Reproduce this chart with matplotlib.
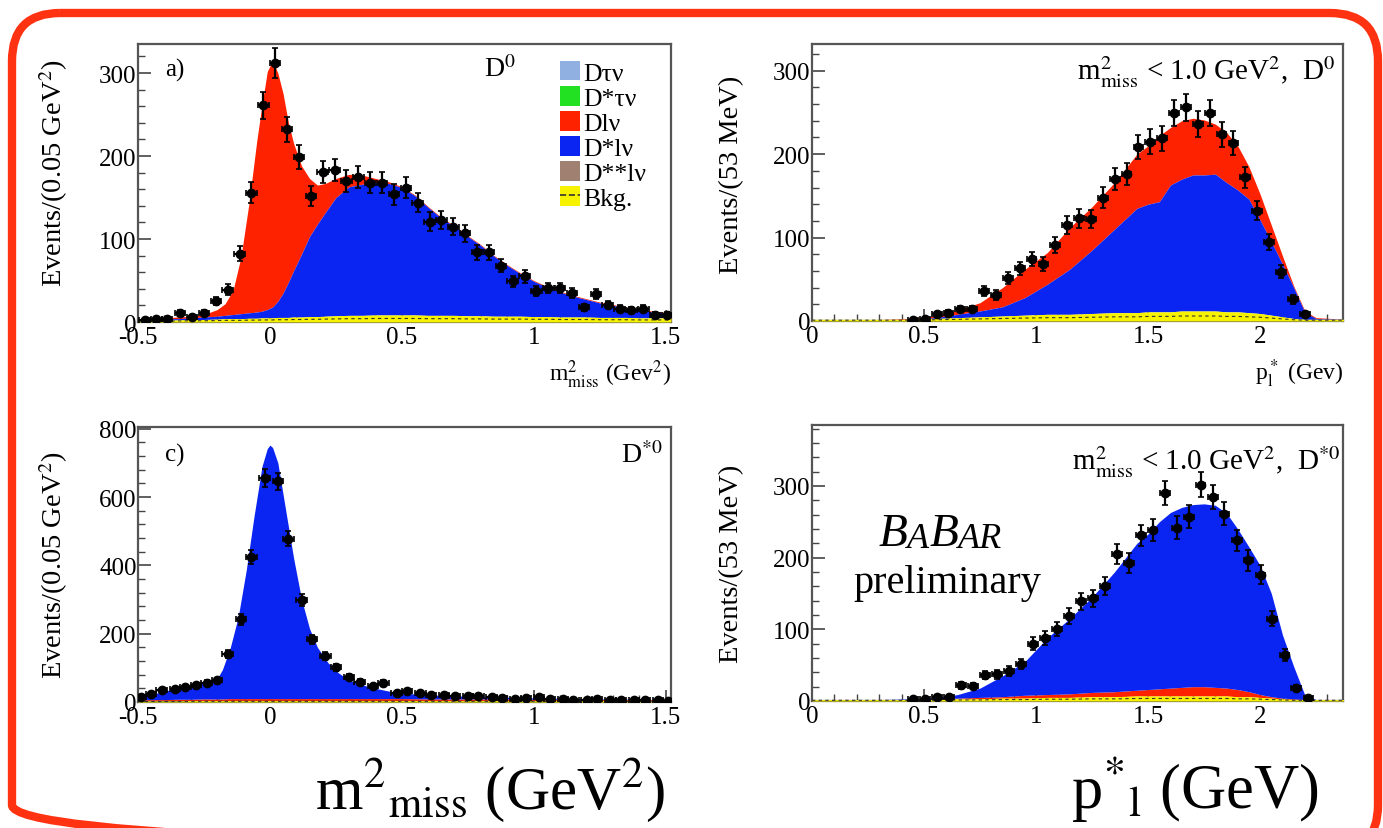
import numpy as np
import matplotlib
matplotlib.use("Agg")
import matplotlib.pyplot as plt
from matplotlib.patches import FancyBboxPatch, Patch
from matplotlib.lines import Line2D
from matplotlib.ticker import AutoMinorLocator, MultipleLocator, FuncFormatter

plt.rcParams['font.family'] = ['Liberation Serif', 'DejaVu Serif']
plt.rcParams['mathtext.fontset'] = 'stix'

# ---------------- data: panel a (D0, m2miss) ----------------
a_x = [-0.475, -0.43, -0.39, -0.34, -0.295, -0.25, -0.205, -0.16, -0.115, -0.07,
       -0.025, 0.02, 0.065, 0.11, 0.155, 0.2, 0.245, 0.29, 0.335, 0.38,
       0.425, 0.47, 0.515, 0.56, 0.605, 0.65, 0.695, 0.74, 0.785, 0.83,
       0.875, 0.92, 0.965, 1.01, 1.055, 1.10, 1.145, 1.19, 1.235, 1.28,
       1.325, 1.37, 1.415, 1.46, 1.505]
a_y = [2, 4, 4, 11, 6, 11, 25, 39, 82, 156, 261, 312, 232, 199, 152, 181, 183, 170,
       175, 168, 168, 154, 162, 144, 121, 123, 115, 107, 84, 84, 68, 49, 55, 37,
       41, 41, 35, 18, 34, 21, 16, 14, 16, 9, 9]
a_fx = [-0.5, -0.45, -0.4, -0.35, -0.3, -0.25, -0.2, -0.17, -0.14, -0.11, -0.08, -0.05,
        -0.03, -0.01, 0.01, 0.03, 0.05, 0.07, 0.09, 0.12, 0.15, 0.18, 0.21, 0.25, 0.3,
        0.35, 0.4, 0.45, 0.5, 0.55, 0.6, 0.65, 0.7, 0.75, 0.8, 0.85, 0.9, 0.95, 1.0,
        1.05, 1.1, 1.15, 1.2, 1.25, 1.3, 1.35, 1.4, 1.45, 1.52]
a_bkg = [2, 2, 2, 2.5, 3, 3, 3.5, 4, 4, 4, 4.5, 4.5, 5, 5, 5, 5.5, 5.5, 5.5, 6, 6, 6.5,
         6.5, 7, 7.5, 8, 8, 8.5, 8.5, 8.5, 8.5, 8, 8, 8, 7.5, 7.5, 7, 7, 7, 6.5, 6.5, 6,
         6, 6, 5.5, 5.5, 5.5, 5, 5, 5]
a_dstarlnu_top = [3, 3, 4, 4, 5, 6, 7, 8, 9, 10, 11, 12, 13, 15, 18, 25, 35, 48, 62, 82,
                  103, 118, 132, 150, 163, 166, 168, 167, 162, 152, 138, 125, 115, 103,
                  92, 79, 68, 58, 49, 42, 36, 31, 27, 23, 20, 17, 15, 12, 10]
a_dlnu_top = [3, 4, 5, 6, 7, 9, 15, 22, 38, 78, 142, 218, 262, 302, 315, 300, 275, 240,
              215, 188, 173, 165, 167, 173, 178, 177, 173, 169, 163, 153, 139, 126, 116,
              104, 93, 80, 69, 59, 50, 43, 37, 32, 28, 24, 21, 18, 16, 13, 11]

# ---------------- data: panel c (D*0, m2miss) ----------------
c_x = [-0.49, -0.45, -0.41, -0.36, -0.32, -0.28, -0.24, -0.20, -0.16, -0.11, -0.07, -0.02,
       0.03, 0.07, 0.12, 0.16, 0.21, 0.25, 0.30, 0.34, 0.39, 0.43, 0.48, 0.52, 0.57, 0.61,
       0.66, 0.70, 0.75, 0.79, 0.84, 0.88, 0.93, 0.97, 1.02, 1.06, 1.11, 1.15, 1.20, 1.24,
       1.29, 1.33, 1.38, 1.42, 1.47, 1.51]
c_y = [15, 24, 34, 39, 44, 49, 56, 63, 141, 242, 424, 656, 646, 478, 298, 183, 135, 102,
       73, 60, 47, 56, 26, 31, 27, 21, 20, 18, 18, 17, 15, 12, 8, 12, 15, 10, 10, 7, 7,
       8, 7, 5, 5, 7, 7, 2]
c_fx = [-0.5, -0.45, -0.4, -0.35, -0.3, -0.25, -0.2, -0.18, -0.15, -0.12, -0.09, -0.06,
        -0.03, -0.01, 0.0, 0.01, 0.03, 0.06, 0.09, 0.12, 0.15, 0.18, 0.22, 0.26, 0.3,
        0.35, 0.4, 0.45, 0.5, 0.6, 0.7, 0.8, 0.9, 1.0, 1.1, 1.2, 1.3, 1.4, 1.52]
c_bkg = [3, 3, 3, 3, 4, 4, 4, 4, 4, 4, 4, 4, 4, 4, 4, 4, 4, 4, 4, 4, 4, 4, 4, 4, 4, 4,
         4, 4, 4, 4, 4, 4, 4, 4, 4, 4, 4, 3, 3]
c_dlnu_top = [7, 7, 7, 8, 8, 9, 9, 9, 10, 10, 10, 10, 10, 10, 10, 10, 10, 10, 10, 10, 10,
              10, 10, 10, 10, 10, 10, 10, 10, 9, 9, 9, 9, 8, 8, 8, 8, 7, 7]
c_dstarlnu_top = [14, 22, 32, 40, 47, 56, 68, 95, 160, 250, 385, 545, 690, 742, 752, 745,
                  700, 560, 420, 300, 215, 160, 115, 85, 64, 50, 40, 32, 26, 21, 18, 16,
                  14, 12, 11, 10, 9, 8, 7]

# ---------------- data: panel b (D0, p*l) ----------------
b_x = [0.45, 0.503, 0.556, 0.609, 0.662, 0.715, 0.768, 0.821, 0.874, 0.927, 0.98, 1.033,
       1.086, 1.139, 1.192, 1.245, 1.298, 1.351, 1.404, 1.457, 1.51, 1.563, 1.616, 1.669,
       1.722, 1.775, 1.828, 1.881, 1.934, 1.987, 2.04, 2.093, 2.146, 2.199]
b_y = [1, 2, 8, 10, 14, 14, 36, 31, 51, 63, 74, 68, 91, 115, 123, 122, 148, 170, 176, 209,
       215, 219, 249, 256, 236, 249, 224, 213, 172, 132, 95, 59, 26, 8]
p_fx = [0.0, 0.3, 0.45, 0.55, 0.65, 0.75, 0.85, 0.95, 1.05, 1.15, 1.25, 1.35, 1.45, 1.5,
        1.55, 1.6, 1.65, 1.7, 1.75, 1.8, 1.85, 1.9, 1.95, 2.0, 2.05, 2.1, 2.15, 2.2, 2.25, 2.4]
b_bkg = [2, 2, 2, 3, 4, 5, 6, 7, 8, 8, 9, 10, 10, 11, 11, 11, 12, 12, 12, 12, 11, 11, 10,
         9, 7, 5, 3, 2, 2, 2]
b_dstarlnu_top = [2, 2, 2, 4, 8, 12, 17, 28, 44, 62, 85, 110, 135, 140, 143, 163, 170, 175,
                  175, 176, 166, 157, 146, 121, 95, 68, 40, 10, 3, 2]
b_dlnu_top = [2, 2, 3, 6, 13, 22, 40, 62, 82, 112, 137, 166, 200, 210, 222, 232, 240, 243,
              241, 236, 226, 210, 185, 152, 115, 78, 42, 12, 4, 2]

# ---------------- data: panel d (D*0, p*l) ----------------
d_x = [0.45, 0.504, 0.557, 0.611, 0.664, 0.718, 0.771, 0.825, 0.878, 0.932, 0.985, 1.039,
       1.092, 1.146, 1.199, 1.253, 1.306, 1.360, 1.413, 1.467, 1.520, 1.574, 1.627, 1.681,
       1.734, 1.788, 1.841, 1.895, 1.948, 2.002, 2.055, 2.109, 2.162, 2.216]
d_y = [3, 3, 6, 6, 22, 21, 36, 37, 42, 52, 80, 88, 100, 119, 139, 143, 160, 205, 193, 231,
       239, 290, 242, 257, 302, 285, 261, 224, 196, 176, 115, 64, 18, 4]
d_bkg = [2, 2, 2, 2, 3, 3, 4, 4, 5, 5, 6, 6, 7, 7, 7, 7, 7, 7, 7, 7, 7, 6, 6, 5, 4, 3, 2,
         2, 2, 2]
d_dlnu_top = [2, 2, 2, 3, 4, 5, 6, 8, 9, 10, 12, 13, 15, 16, 17, 18, 19, 20, 20, 19, 18, 16,
              13, 9, 6, 4, 3, 2, 2, 2]
d_dstarlnu_top = [2, 2, 3, 4, 9, 18, 35, 55, 88, 115, 145, 180, 220, 233, 250, 263, 270,
                  274, 275, 273, 262, 240, 215, 189, 150, 92, 48, 8, 2, 2]

legend_labels = ["D\u03c4\u03bd", "D*\u03c4\u03bd", "Dl\u03bd", "D*l\u03bd", "D**l\u03bd", "Bkg."]

# ---------------- colours ----------------
C_DTAU = '#8fb0e0'
C_DSTAU = '#22e022'
C_DLNU = '#ff2200'
C_DSLNU = '#0a24f2'
C_DSSLNU = '#a08070'
C_BKG = '#f6f200'

W, H = 1383, 829
fig = plt.figure(figsize=(W / 100, H / 100), dpi=100)

bg = fig.add_axes([0, 0, 1, 1])
bg.set_xlim(0, W)
bg.set_ylim(H, 0)
bg.axis('off')
bg.add_patch(FancyBboxPatch((12, 14), 1366, 840,
                            boxstyle='round,pad=0,rounding_size=48',
                            fill=False, ec='#ff3311', lw=6))


def make_ax(l, t, r, b):
    return fig.add_axes([l / W, 1 - b / H, (r - l) / W, (b - t) / H])


fmt = FuncFormatter(lambda v, p: '%g' % v)


def style(ax, xlim, ylim, xmaj, ymaj):
    ax.set_xlim(*xlim)
    ax.set_ylim(*ylim)
    for s in ax.spines.values():
        s.set_color('#555555')
        s.set_linewidth(1.6)
    ax.xaxis.set_major_locator(MultipleLocator(xmaj))
    ax.yaxis.set_major_locator(MultipleLocator(ymaj))
    ax.xaxis.set_minor_locator(AutoMinorLocator(5))
    ax.yaxis.set_minor_locator(AutoMinorLocator(5))
    ax.xaxis.set_major_formatter(fmt)
    ax.yaxis.set_major_formatter(fmt)
    ax.tick_params(which='major', direction='in', length=9, width=1.2, color='#444444',
                   labelsize=18, pad=1)
    ax.tick_params(axis='x', which='major', pad=3)
    ax.tick_params(which='minor', direction='in', length=5, width=1.0, color='#444444')


def data_points(ax, x, y, xe):
    y = np.asarray(y, float)
    ax.errorbar(x, y, yerr=np.sqrt(y), xerr=xe, fmt='o', color='black', ms=6,
                elinewidth=1.6, capsize=2, capthick=1.2, zorder=6)


def bkg_layer(ax, fx, bkg):
    ax.fill_between(fx, 0, bkg, color=C_BKG, lw=0, zorder=3)
    ax.plot(fx, np.asarray(bkg) * 0.5, ls=(0, (3, 3)), color='#333333', lw=0.8, zorder=3)


YLAB = 20.5

# ---- panel a ----
ax = make_ax(138, 45, 671, 323)
ax.fill_between(a_fx, a_dstarlnu_top, a_dlnu_top, color=C_DLNU, lw=0, zorder=2)
ax.fill_between(a_fx, a_bkg, a_dstarlnu_top, color=C_DSLNU, lw=0, zorder=2)
bkg_layer(ax, a_fx, a_bkg)
data_points(ax, a_x, a_y, 0.02)
style(ax, (-0.5, 1.52), (0, 335), 0.5, 100)
ax.set_ylabel('Events/(0.05 GeV$^2$)', fontsize=YLAB)
ax.yaxis.set_label_coords(-0.127, 0.54)
ax.set_xlabel(r'm$^2_{\rm miss}$ (Gev$^2$)', fontsize=17)
ax.xaxis.set_label_coords(1.0, -0.13)
ax.xaxis.label.set_ha('right')
ax.text(0.05, 0.91, 'a)', transform=ax.transAxes, fontsize=18, va='center')
ax.text(0.65, 0.91, 'D$^0$', transform=ax.transAxes, fontsize=20, va='center')
handles = [Patch(fc=C_DTAU), Patch(fc=C_DSTAU), Patch(fc=C_DLNU), Patch(fc=C_DSLNU),
           Patch(fc=C_DSSLNU),
           (Patch(fc=C_BKG), Line2D([], [], ls='--', color='#333333', lw=1.2))]
ax.legend(handles, legend_labels, loc='upper left', bbox_to_anchor=(0.762, 0.995),
          frameon=False, fontsize=18.5, handlelength=0.8, handleheight=0.8,
          handletextpad=0.12, labelspacing=0.05, borderpad=0.1)

# ---- panel b ----
ax = make_ax(812, 45, 1343, 322)
ax.fill_between(p_fx, b_dstarlnu_top, b_dlnu_top, color=C_DLNU, lw=0, zorder=2)
ax.fill_between(p_fx, b_bkg, b_dstarlnu_top, color=C_DSLNU, lw=0, zorder=2)
bkg_layer(ax, p_fx, b_bkg)
data_points(ax, b_x, b_y, 0.022)
style(ax, (0, 2.37), (0, 332), 0.5, 100)
ax.set_ylabel('Events/(53 MeV)', fontsize=YLAB)
ax.yaxis.set_label_coords(-0.128, 0.53)
ax.set_xlabel(r'p$^*_{\rm l}$ (Gev)', fontsize=17)
ax.xaxis.set_label_coords(1.0, -0.13)
ax.xaxis.label.set_ha('right')
ax.text(0.985, 0.90, r'm$^2_{\rm miss}$ < 1.0 GeV$^2$,  D$^0$', transform=ax.transAxes,
        fontsize=21, ha='right', va='center')

# ---- panel c ----
ax = make_ax(138, 428, 671, 703)
bkg_layer(ax, c_fx, c_bkg)
ax.fill_between(c_fx, c_bkg, c_dlnu_top, color=C_DLNU, lw=0, zorder=2)
ax.fill_between(c_fx, c_dlnu_top, c_dstarlnu_top, color=C_DSLNU, lw=0, zorder=2)
data_points(ax, c_x, c_y, 0.02)
style(ax, (-0.5, 1.52), (0, 805), 0.5, 200)
ax.set_ylabel('Events/(0.05 GeV$^2$)', fontsize=YLAB)
ax.yaxis.set_label_coords(-0.127, 0.5)
ax.text(0.05, 0.9, 'c)', transform=ax.transAxes, fontsize=18, va='center')
ax.text(0.985, 0.9, 'D$^{*0}$', transform=ax.transAxes, fontsize=20, va='center',
        ha='right')

# ---- panel d ----
ax = make_ax(812, 426, 1343, 702)
bkg_layer(ax, p_fx, d_bkg)
ax.fill_between(p_fx, d_bkg, d_dlnu_top, color=C_DLNU, lw=0, zorder=2)
ax.fill_between(p_fx, d_dlnu_top, d_dstarlnu_top, color=C_DSLNU, lw=0, zorder=2)
data_points(ax, d_x, d_y, 0.022)
style(ax, (0, 2.37), (0, 385), 0.5, 100)
ax.set_ylabel('Events/(53 MeV)', fontsize=YLAB)
ax.yaxis.set_label_coords(-0.128, 0.5)
ax.text(0.995, 0.87, r'm$^2_{\rm miss}$ < 1.0 GeV$^2$,  D$^{*0}$', transform=ax.transAxes,
        fontsize=21, ha='right', va='center')
t = ax.text(0.125, 0.53, 'B', transform=ax.transAxes, fontsize=34, style='italic',
            va='bottom', ha='left')
for piece, fs in (('A', 26), ('B', 34), ('AR', 26)):
    t = ax.annotate(piece, xy=(1, 0), xycoords=t, fontsize=fs, style='italic',
                    va='bottom', ha='left')
ax.text(0.255, 0.43, 'preliminary', transform=ax.transAxes, fontsize=29,
        ha='center', va='center')

# ---- big slide labels ----
bg.text(490, 790, r'm$^{2}{}_{\rm miss}$ (GeV$^{2}$)', fontsize=44, ha='center',
        va='center')
bg.text(1195, 790, r'p$^{*}{}_{\rm l}$ (GeV)', fontsize=45, ha='center', va='center')

fig.savefig('out.png', dpi=100)
